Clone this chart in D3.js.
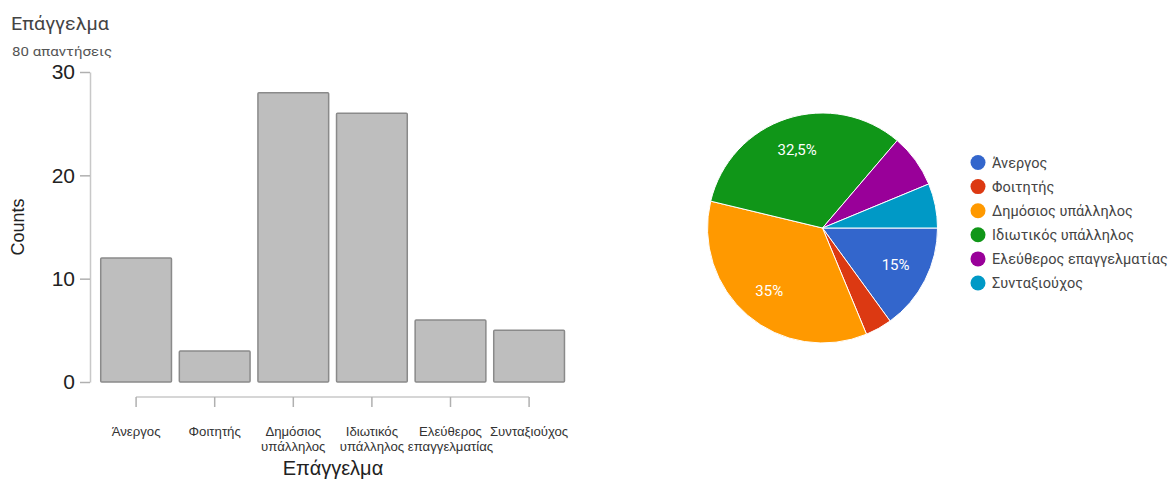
<!DOCTYPE html>
<html><head><meta charset="utf-8">
<script src="https://cdn.jsdelivr.net/npm/d3@7"></script>
<style>body{margin:0;background:#fff}svg{display:block}</style>
</head><body>
<svg id="c" width="1171" height="480"></svg>
<script>
const categories = ["Άνεργος","Φοιτητής","Δημόσιος υπάλληλος","Ιδιωτικός υπάλληλος","Ελεύθερος επαγγελματίας","Συνταξιούχος"];
const barLabelLines = [["Άνεργος"],["Φοιτητής"],["Δημόσιος","υπάλληλος"],["Ιδιωτικός","υπάλληλος"],["Ελεύθερος","επαγγελματίας"],["Συνταξιούχος"]];
const counts = [12, 3, 28, 26, 6, 5];
const yTicks = [0, 10, 20, 30];
const pieColors = ["#3366cc","#dc3912","#ff9900","#109618","#990099","#0099c6"];
const titleText = "Επάγγελμα";
const subtitleText = "80 απαντήσεις";
const yTitle = "Counts";
const xTitle = "Επάγγελμα";

const svg = d3.select("#c");

svg.append("text").attr("x", 11).attr("y", 30).attr("font-family","Roboto, sans-serif")
  .attr("font-size", 17.5).attr("fill", "#444").attr("textLength", 98).attr("lengthAdjust","spacingAndGlyphs").text(titleText);
svg.append("text").attr("x", 12).attr("y", 56).attr("font-family","Roboto, sans-serif")
  .attr("font-size", 12).attr("fill", "#555").attr("textLength", 100).attr("lengthAdjust","spacingAndGlyphs").text(subtitleText);

// Bar chart
const x = d3.scaleBand().domain(categories).range([96.8, 568.4]).paddingInner(0.1).paddingOuter(0.05);
const y = d3.scaleLinear().domain([0, 30]).range([382, 72]);

const bars = svg.append("g");
bars.selectAll("rect").data(counts).join("rect")
  .attr("x", (d,i) => x(categories[i]))
  .attr("y", d => y(d))
  .attr("width", x.bandwidth())
  .attr("height", d => y(0) - y(d))
  .attr("fill", "#bebebe").attr("stroke", "#8a8a8a").attr("stroke-width", 1.5).attr("rx", 1);

// Y axis
const yAxis = svg.append("g").attr("transform", "translate(90,0)")
  .call(d3.axisLeft(y).tickValues(yTicks).tickSize(10).tickSizeOuter(0).tickPadding(5));
yAxis.select(".domain").attr("stroke", "#c8c8c8").attr("stroke-width", 1.5);
yAxis.selectAll(".tick line").attr("stroke", "#b0b0b0").attr("stroke-width", 1.5);
yAxis.selectAll(".tick text").attr("font-family","Liberation Sans, Arial, sans-serif")
  .attr("font-size", 21).attr("fill", "#222");

svg.append("text").attr("transform", "translate(24,227) rotate(-90)").attr("text-anchor","middle")
  .attr("font-family","Liberation Sans, Arial, sans-serif").attr("font-size", 18).attr("fill","#222").text(yTitle);

// X axis
const xAxis = svg.append("g").attr("transform", "translate(0,397)")
  .call(d3.axisBottom(x).tickSize(10).tickSizeOuter(0).tickFormat(""));
const cx0 = x(categories[0]) + x.bandwidth()/2, cx1 = x(categories[categories.length-1]) + x.bandwidth()/2;
xAxis.select(".domain").attr("d", `M${cx0},0H${cx1}`).attr("stroke", "#c8c8c8").attr("stroke-width", 1.5);
xAxis.selectAll(".tick line").attr("stroke", "#b0b0b0").attr("stroke-width", 1.5);

const xl = svg.append("g");
barLabelLines.forEach((lines, i) => {
  const cx = x(categories[i]) + x.bandwidth()/2;
  const t = xl.append("text").attr("x", cx).attr("y", 436)
    .attr("text-anchor","middle").attr("font-family","Liberation Sans, Arial, sans-serif")
    .attr("font-size", 13.2).attr("fill", "#333");
  lines.forEach((l, j) => t.append("tspan").attr("x", cx).attr("dy", j ? 15 : 0).text(l));
});
svg.append("text").attr("x", 333).attr("y", 475).attr("text-anchor","middle")
  .attr("font-family","Liberation Sans, Arial, sans-serif").attr("font-size", 20).attr("fill","#222").text(xTitle);

// Pie
const total = d3.sum(counts);
const pie = d3.pie().sort(null).startAngle(Math.PI/2).endAngle(Math.PI/2 + 2*Math.PI);
const arcs = pie(counts);
const R = 115;
const arc = d3.arc().innerRadius(0).outerRadius(R);
const labelArc = d3.arc().innerRadius(82).outerRadius(82);
const pg = svg.append("g").attr("transform", "translate(822.5,228)");
pg.selectAll("path").data(arcs).join("path").attr("d", arc)
  .attr("fill", (d,i) => pieColors[i]).attr("stroke", "#fff").attr("stroke-width", 1);
pg.selectAll("text").data(arcs.filter(d => d.value/total >= 0.1)).join("text")
  .attr("transform", d => `translate(${labelArc.centroid(d)})`)
  .attr("text-anchor","middle").attr("dy","0.35em")
  .attr("font-family","Roboto, sans-serif").attr("font-size", 15).attr("fill","#fff")
  .text(d => (d3.format(".3~r")(d.value/total*100)).replace(".", ",") + "%");

// Legend
const lg = svg.append("g").attr("transform", "translate(978,162.5)");
categories.forEach((c, i) => {
  const g = lg.append("g").attr("transform", `translate(0,${i*24.1})`);
  g.append("circle").attr("r", 7.5).attr("fill", pieColors[i]);
  g.append("text").attr("x", 14).attr("dy", "0.35em").attr("font-family","Roboto, sans-serif")
    .attr("font-size", 14.5).attr("fill", "#444").text(c);
});
</script>
</body></html>
